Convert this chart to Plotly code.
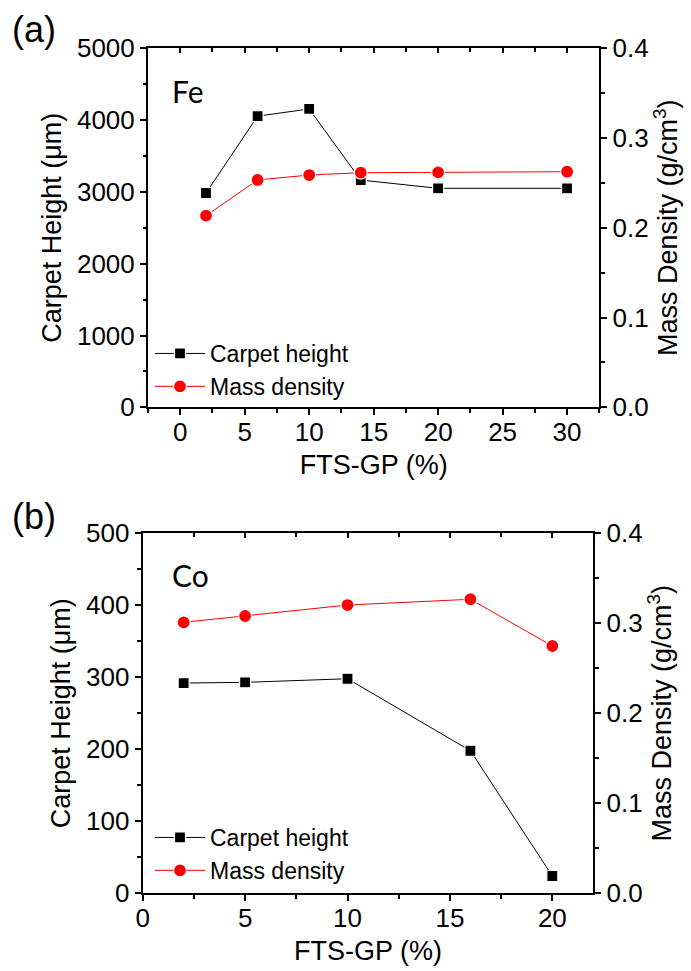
import plotly.graph_objects as go
from plotly.subplots import make_subplots

# Panel (a): Fe catalyst
fe_fts = [2, 6, 10, 14, 20, 30]
fe_height = [2985, 4055, 4155, 3165, 3050, 3050]
fe_density = [0.2135, 0.2533, 0.2588, 0.2614, 0.2618, 0.2625]

# Panel (b): Co catalyst
co_fts = [2, 5, 10, 16, 20]
co_height = [292, 293, 298, 198, 24]
co_density = [0.3011, 0.3081, 0.3203, 0.3267, 0.2748]

W, H = 691, 971
FONT = "Liberation Sans, Arial, sans-serif"
TICK = 26
TITLE = 27

fig = make_subplots(rows=2, cols=1, specs=[[{"secondary_y": True}], [{"secondary_y": True}]])

def add_panel(row, xs, hts, dens):
    leg = "legend" if row == 1 else "legend2"
    fig.add_trace(go.Scatter(
        x=xs, y=hts, mode="lines+markers", name="Carpet height",
        line=dict(color="black", width=1),
        marker=dict(symbol="square", size=11, color="black", line=dict(color="white", width=1.2)),
        legend=leg,
    ), row=row, col=1, secondary_y=False)
    fig.add_trace(go.Scatter(
        x=xs, y=dens, mode="lines+markers", name="Mass density",
        line=dict(color="#ff0000", width=1),
        marker=dict(symbol="circle", size=13, color="#ff0000", line=dict(color="white", width=1.2)),
        legend=leg,
    ), row=row, col=1, secondary_y=True)

add_panel(1, fe_fts, fe_height, fe_density)
add_panel(2, co_fts, co_height, co_density)

# empty traces so the top frame axes get drawn
fig.add_trace(go.Scatter(x=[], y=[], xaxis="x3", yaxis="y", showlegend=False, hoverinfo="skip"))
fig.add_trace(go.Scatter(x=[], y=[], xaxis="x4", yaxis="y3", showlegend=False, hoverinfo="skip"))

def px_x(v):
    return v / W

def px_y(v):
    return 1 - v / H

dom_a_x = [px_x(148), px_x(599.3)]
dom_a_y = [px_y(407.3), px_y(48.3)]
dom_b_x = [px_x(142.7), px_x(593.3)]
dom_b_y = [px_y(893.3), px_y(533.3)]

axis_common = dict(
    showline=True, linecolor="black", linewidth=2, ticks="outside", ticklen=6,
    tickwidth=1.5, tickcolor="black", showgrid=False, zeroline=False, automargin=False,
    tickfont=dict(family=FONT, size=TICK, color="black"),
)
minor_out = dict(ticks="outside", ticklen=3.5, tickwidth=1.5, tickcolor="black", showgrid=False)
minor_in = dict(ticks="inside", ticklen=3.5, tickwidth=1.5, tickcolor="black", showgrid=False)
top_common = dict(side="top", showline=True, linecolor="black", linewidth=2, ticks="inside",
                  ticklen=5, tickwidth=1.5, tickcolor="black", showticklabels=False,
                  showgrid=False, zeroline=False, automargin=False)

title_font = dict(family=FONT, size=TITLE, color="black")

fig.update_layout(
    width=W, height=H, margin=dict(l=0, r=0, t=0, b=0, autoexpand=False),
    paper_bgcolor="white", plot_bgcolor="white",
    xaxis=dict(**axis_common, domain=dom_a_x, range=[-2.5, 32.5], tickvals=[0, 5, 10, 15, 20, 25, 30],
               minor=dict(dtick=2.5, tick0=0, **minor_out), ticklabelstandoff=-6,
               title=dict(text="FTS-GP (%)", font=title_font, standoff=10)),
    yaxis=dict(**axis_common, domain=dom_a_y, range=[0, 5000], dtick=1000,
               minor=dict(dtick=500, **minor_out),
               title=dict(text="Carpet Height (μm)", font=title_font, standoff=8)),
    yaxis2=dict(**axis_common, range=[0, 0.4], dtick=0.1, tickformat=".1f",
                minor=dict(dtick=0.05, **minor_out),
                title=dict(text="Mass Density (g/cm<sup>3</sup>)", font=title_font, standoff=8)),
    xaxis2=dict(**axis_common, domain=dom_b_x, range=[0, 22], tickvals=[0, 5, 10, 15, 20],
                minor=dict(dtick=2.5, tick0=0, **minor_out), ticklabelstandoff=-6,
                title=dict(text="FTS-GP (%)", font=title_font, standoff=10)),
    yaxis3=dict(**axis_common, domain=dom_b_y, range=[0, 500], dtick=100,
                minor=dict(dtick=50, **minor_out),
                title=dict(text="Carpet Height (μm)", font=title_font, standoff=8)),
    yaxis4=dict(**axis_common, range=[0, 0.4], dtick=0.1, tickformat=".1f",
                minor=dict(dtick=0.05, **minor_out),
                title=dict(text="Mass Density (g/cm<sup>3</sup>)", font=title_font, standoff=8)),
    xaxis3=dict(**top_common, overlaying="x", anchor="y", range=[-2.5, 32.5],
                tickvals=[0, 5, 10, 15, 20, 25, 30], minor=dict(dtick=2.5, tick0=0, **minor_in)),
    xaxis4=dict(**top_common, overlaying="x2", anchor="y3", range=[0, 22],
                tickvals=[0, 5, 10, 15, 20], minor=dict(dtick=2.5, tick0=0, **minor_in)),
    legend=dict(x=px_x(150), y=px_y(332), xanchor="left", yanchor="top",
                bgcolor="rgba(0,0,0,0)", itemwidth=50, tracegroupgap=0,
                font=dict(family=FONT, size=23, color="black")),
    legend2=dict(x=px_x(150), y=px_y(816), xanchor="left", yanchor="top",
                 bgcolor="rgba(0,0,0,0)", itemwidth=50, tracegroupgap=0,
                 font=dict(family=FONT, size=23, color="black")),
)

annos = [
    dict(text="(a)", x=px_x(10), y=px_y(30), xanchor="left", yanchor="middle",
         font=dict(family=FONT, size=36, color="black")),
    dict(text="(b)", x=px_x(10), y=px_y(516), xanchor="left", yanchor="middle",
         font=dict(family=FONT, size=36, color="black")),
    dict(text="Fe", x=px_x(170), y=px_y(91), xanchor="left", yanchor="middle",
         font=dict(family="Lato, Open Sans, sans-serif", size=30, color="black")),
    dict(text="Co", x=px_x(170), y=px_y(575), xanchor="left", yanchor="middle",
         font=dict(family="Lato, Open Sans, sans-serif", size=30, color="black")),
]
for a in annos:
    fig.add_annotation(xref="paper", yref="paper", showarrow=False, **a)

fig.write_html("out.html")
